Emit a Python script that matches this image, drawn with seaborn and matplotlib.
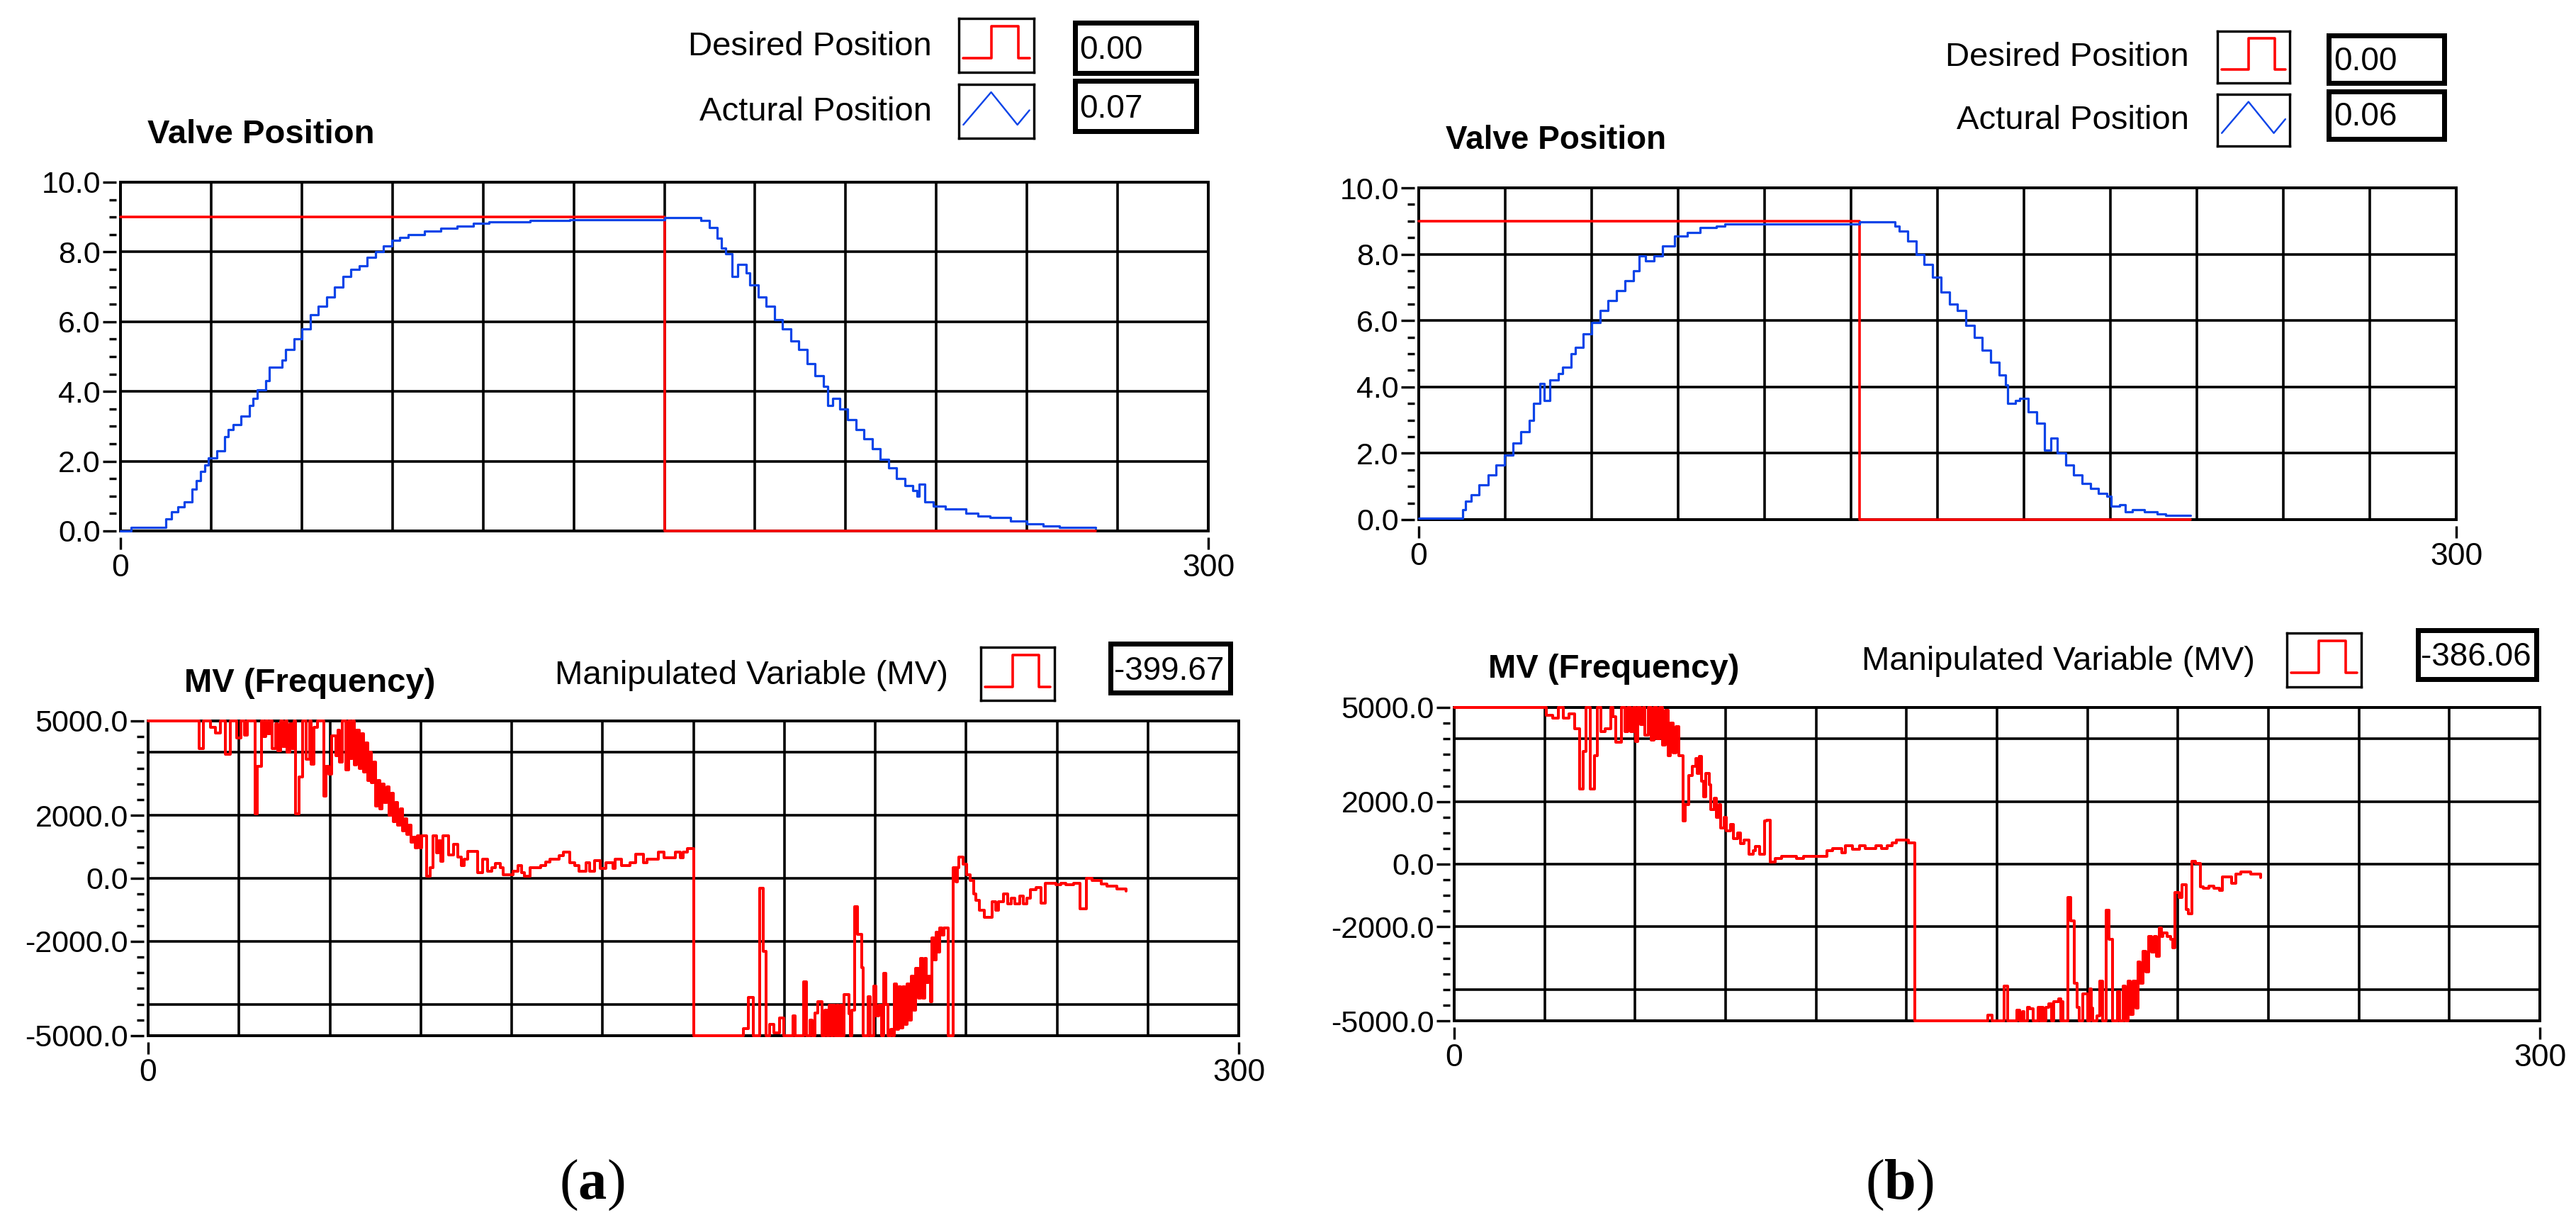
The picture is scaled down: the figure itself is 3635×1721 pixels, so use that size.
import matplotlib
matplotlib.use("Agg")
import matplotlib.pyplot as plt
from matplotlib.patches import Rectangle
from matplotlib.ticker import MultipleLocator
import pandas as pd
import seaborn as sns

# --- données --------------------------------------------------------------
RED = "#ff0000"
BLUE = "#0b44e8"

# (a) position de la vanne
a_t = [0, 2.9, 12.5, 14.1, 15.8, 17.5, 19.8, 21.0, 22.0, 23.2,
       24.3, 26.5, 28.7, 29.8, 31.0, 33.2, 35.5, 36.6, 37.7, 40.0,
       41.1, 44.5, 45.6, 47.8, 50.1, 52.3, 54.6, 56.8, 59.1, 61.3,
       63.6, 65.8, 68.1, 70.3, 72.5, 74.8, 77.0, 79.3, 83.8, 88.3,
       92.8, 97.3, 101.7, 113.0, 124.0, 150.0, 160.0, 162.4, 164.6, 165.8,
       167.0, 168.7, 170.2, 172.5, 173.6, 175.9, 178.1, 180.4, 182.6, 184.8,
       187.1, 189.3, 191.6, 193.8, 195.0, 196.5, 198.3, 200.6, 202.8, 205.0,
       207.3, 209.5, 211.8, 214.0, 216.3, 218.5, 219.7, 220.3, 221.9, 224.2,
       227.5, 233.1, 236.5, 239.9, 245.5, 250.0, 254.5, 259.0, 269.0]
a_actual = [0.0, 0.1, 0.35, 0.55, 0.7, 0.83, 1.2, 1.45, 1.7, 1.9,
            2.1, 2.3, 2.7, 2.9, 3.05, 3.3, 3.6, 3.8, 4.05, 4.3,
            4.7, 4.9, 5.2, 5.5, 5.8, 6.2, 6.45, 6.7, 7.0, 7.3,
            7.5, 7.6, 7.85, 8.0, 8.17, 8.33, 8.42, 8.5, 8.6, 8.67,
            8.75, 8.83, 8.87, 8.9, 8.93, 8.98, 8.9, 8.7, 8.4, 8.1,
            7.95, 7.3, 7.65, 7.4, 7.05, 6.7, 6.45, 6.05, 5.8, 5.45,
            5.2, 4.8, 4.45, 4.15, 3.6, 3.8, 3.5, 3.2, 2.9, 2.65,
            2.35, 2.05, 1.8, 1.5, 1.3, 1.15, 1.0, 1.35, 0.83, 0.72,
            0.63, 0.5, 0.42, 0.39, 0.28, 0.2, 0.14, 0.11, 0.08]
a_desired_t = [0, 150, 269]
a_desired = [9.0, 0.0, 0.0]

# (b) position de la vanne
b_t = [0, 12.7, 13.5, 15.1, 17.5, 20.0, 22.4, 24.8, 27.2, 29.6,
       32.0, 33.2, 35.1, 36.3, 38.0, 40.4, 41.6, 44.0, 45.2, 47.6,
       50.0, 52.4, 54.8, 57.2, 59.6, 62.0, 63.7, 65.6, 68.0, 70.4,
       74.0, 77.6, 81.3, 86.1, 88.5, 127.4, 137.7, 139.0, 141.4, 143.8,
       146.2, 148.6, 151.0, 153.4, 155.8, 158.2, 160.6, 163.0, 165.4, 167.8,
       169.7, 170.2, 172.6, 173.8, 176.2, 178.6, 181.0, 182.7, 184.6, 187.0,
       189.4, 191.8, 194.2, 196.6, 199.0, 200.3, 202.7, 204.3, 206.3, 209.9,
       213.5, 215.9, 223.1]
b_actual = [0.05, 0.3, 0.55, 0.75, 1.05, 1.35, 1.65, 1.95, 2.3, 2.65,
            3.0, 3.5, 4.1, 3.6, 4.2, 4.4, 4.6, 5.0, 5.2, 5.6,
            5.95, 6.3, 6.6, 6.9, 7.2, 7.5, 7.95, 7.8, 7.95, 8.25,
            8.55, 8.65, 8.8, 8.85, 8.9, 8.97, 8.85, 8.7, 8.4, 8.0,
            7.7, 7.3, 6.85, 6.5, 6.3, 5.85, 5.5, 5.1, 4.75, 4.35,
            4.05, 3.5, 3.6, 3.65, 3.25, 2.9, 2.1, 2.45, 2.0, 1.65,
            1.35, 1.1, 0.93, 0.78, 0.7, 0.4, 0.45, 0.23, 0.3, 0.23,
            0.17, 0.12, 0.12]
b_desired_t = [0, 127.4, 223.1]
b_desired = [9.0, 0.0, 0.0]

# (a) MV (temps, fréquence)
mv_a = [(0, 5000), (14.1, 4120), (15.3, 5000), (17.1, 4800), (18.6, 4620), (19.9, 5000),
        (21.3, 3950), (22.7, 5000), (24.3, 4450), (25.5, 5000), (26.5, 4550), (27.2, 5000),
        (29.5, 2060), (30.0, 3560), (31.2, 5000), (31.8, 4500), (32.4, 5000), (33.0, 4600),
        (33.6, 5000), (34.2, 4120), (35.0, 4900), (35.6, 4050), (36.5, 5000), (37.0, 4200),
        (37.8, 5000), (38.3, 4000), (39.0, 4900), (39.5, 4120), (40.2, 5000), (40.6, 2060),
        (41.5, 3220), (42.4, 5000), (43.4, 3780), (44.4, 5000), (44.8, 3630), (45.7, 4800),
        (46.5, 5000), (48.4, 2620), (48.9, 3560), (49.8, 3300), (50.4, 4530), (51.6, 3900),
        (52.3, 4700), (52.7, 3700), (53.4, 5000), (54.4, 3450), (55.1, 5000), (55.6, 3800),
        (56.2, 5000), (56.8, 3600), (57.4, 4700), (58.0, 3500), (58.6, 4600), (59.2, 3370),
        (59.8, 4300), (60.4, 3100), (61.0, 4000), (61.5, 3050), (62.0, 3700), (62.6, 2300),
        (63.2, 3100), (63.8, 2200), (64.4, 3000), (65.0, 2400), (65.6, 2900), (66.3, 2000),
        (66.9, 2700), (67.5, 1800), (68.1, 2400), (68.7, 1700), (69.3, 2200), (69.9, 1500),
        (70.5, 1900), (71.1, 1400), (71.7, 1700), (72.3, 1150), (72.9, 1300), (73.5, 970),
        (74.1, 1350), (74.7, 970), (75.3, 1350), (76.7, 75), (77.6, 340), (78.4, 1350),
        (79.4, 800), (80.0, 1200), (80.5, 550), (81.0, 1350), (82.7, 750), (84.0, 1090),
        (85.2, 670), (86.2, 410), (87.0, 600), (88.0, 860), (90.6, 190), (92.0, 600),
        (93.4, 225), (94.5, 340), (95.6, 480), (96.8, 340), (97.6, 110), (100.3, 225),
        (101.8, 410), (102.8, 190), (103.5, 75), (105.0, 340), (108.0, 410), (109.3, 520),
        (110.5, 600), (113.0, 710), (114.3, 840), (116.0, 490), (117.4, 410), (118.6, 225),
        (120.4, 490), (121.4, 225), (122.9, 560), (124.4, 320), (125.9, 500), (127.8, 320),
        (128.4, 600), (130.2, 410), (132.6, 500), (134.2, 770), (136.3, 490), (137.3, 600),
        (140.4, 840), (142.0, 660), (145.0, 840), (146.4, 660), (147.2, 840), (148.4, 940),
        (150.0, -5000), (163.7, -4780), (165.2, -3780), (166.4, -5000), (168.2, -310),
        (169.2, -2310), (170.0, -5000), (171.0, -4630), (172.2, -4900), (173.7, -4440),
        (174.9, -5000), (177.4, -4370), (178.0, -5000), (180.4, -3280), (181.0, -5000),
        (182.0, -4500), (182.7, -5000), (183.4, -4290), (184.2, -3920), (185.4, -5000),
        (186.2, -4180), (186.8, -5000), (187.4, -4030), (187.9, -5000), (188.4, -4030),
        (188.9, -5000), (189.4, -4030), (189.9, -5000), (190.4, -4030), (190.9, -5000),
        (191.4, -3690), (192.7, -4300), (193.2, -5000), (193.6, -4200), (194.4, -900),
        (195.2, -1790), (196.2, -2840), (196.7, -5000), (198.0, -3770), (198.7, -5000),
        (199.7, -3430), (200.2, -4370), (201.0, -4030), (201.7, -5000), (202.4, -3020),
        (203.0, -4000), (203.6, -5000), (204.2, -4800), (204.8, -5000), (205.2, -3360),
        (205.8, -4800), (206.4, -3440), (207.0, -4750), (207.6, -3440), (208.2, -4650),
        (208.8, -3360), (209.4, -4500), (210.0, -3100), (210.6, -4200), (211.2, -2870),
        (211.8, -3800), (212.4, -2540), (213.0, -3800), (213.6, -2540), (214.0, -3300),
        (214.6, -3100), (215.2, -3920), (215.6, -1890), (216.2, -2580), (216.7, -1720),
        (217.2, -2350), (217.8, -1570), (218.4, -1800), (219.0, -1570), (220.0, -5000),
        (221.4, 340), (222.2, -110), (222.6, 340), (223.0, 670), (224.2, 450), (225.2, 110),
        (226.2, -75), (227.0, -490), (227.7, -690), (228.7, -1010), (230.0, -1230),
        (232.2, -750), (233.2, -1010), (234.0, -750), (235.2, -490), (236.4, -820),
        (237.4, -640), (238.4, -820), (239.7, -560), (240.7, -820), (241.7, -640),
        (242.7, -370), (244.2, -300), (245.7, -780), (246.7, -165), (249.7, -200),
        (251.0, -165), (252.5, -200), (254.5, -165), (256.4, -970), (258.0, 0),
        (259.7, -75), (262.2, -170), (263.7, -250), (266.4, -340), (269.0, -410)]

# (b) MV
mv_b = [(0, 5000), (25.4, 4750), (27.2, 4650), (28.7, 5000), (30.2, 4650), (31.7, 4800),
        (33.2, 4330), (34.7, 2400), (35.7, 3590), (36.5, 5000), (37.5, 2400), (38.7, 3470),
        (39.5, 5000), (40.5, 4220), (41.7, 4320), (43.2, 5000), (43.9, 4700), (44.7, 3900),
        (46.2, 5000), (47.2, 4220), (47.9, 5000), (48.7, 4220), (49.5, 5000), (50.2, 3920),
        (50.7, 5000), (51.5, 4450), (52.2, 5000), (52.7, 4110), (53.7, 5000), (54.5, 3960),
        (55.3, 5000), (56.0, 4000), (56.8, 5000), (57.6, 3810), (58.3, 4900), (59.1, 3470),
        (59.8, 4500), (60.6, 3550), (61.3, 4400), (62.1, 3470), (63.2, 1370), (63.9, 1900),
        (64.9, 2835), (65.7, 3130), (66.7, 3360), (67.2, 2900), (67.7, 3430), (68.4, 2650),
        (68.9, 2160), (69.6, 2900), (70.4, 2540), (70.9, 1750), (71.9, 2100), (72.4, 1490),
        (73.2, 1900), (73.7, 1150), (74.7, 1500), (75.2, 1070), (76.3, 1260), (77.2, 825),
        (78.3, 1000), (79.2, 660), (80.0, 780), (81.4, 320), (82.6, 435), (83.3, 570),
        (84.4, 320), (85.8, 1370), (86.4, 1410), (87.4, 75), (88.8, 170), (90.4, 250),
        (94.6, 170), (96.6, 250), (103.1, 420), (104.6, 500), (107.1, 360), (108.1, 590),
        (110.1, 470), (112.1, 590), (113.6, 500), (116.6, 590), (118.1, 500), (119.6, 590),
        (121.1, 675), (122.1, 760), (125.6, 675),
        (127.3, -5000), (147.5, -4810), (148.7, -5000), (152.0, -3900), (153.0, -5000),
        (155.5, -4650), (156.2, -5000), (157.0, -4700), (157.5, -5000), (158.5, -4570),
        (159.0, -4620), (160.0, -5000), (161.3, -4570), (162.0, -5000), (162.3, -4570),
        (162.7, -5000), (163.5, -4570), (164.3, -4460), (165.0, -5000), (165.7, -4400),
        (167.0, -4300), (167.6, -5000), (168.0, -4400), (168.3, -5000), (169.5, -1070),
        (170.3, -1815), (171.3, -3800), (172.1, -4570), (172.7, -5000), (173.7, -4140),
        (175.0, -5000), (175.6, -3990), (176.0, -4600), (176.4, -5000), (177.6, -4850),
        (178.4, -3730), (179.2, -5000), (180.2, -1480), (180.9, -2400), (181.9, -5000),
        (183.2, -4065), (183.9, -5000), (184.9, -3900), (185.5, -5000), (186.2, -3730),
        (186.9, -4800), (187.6, -3730), (188.3, -4600), (188.9, -3130), (189.6, -3800),
        (190.4, -2790), (191.1, -3450), (191.9, -2300), (192.6, -2800), (193.4, -2300),
        (194.1, -2940), (194.9, -2040), (195.4, -2300), (195.9, -2200), (196.9, -2300),
        (197.9, -2400), (198.5, -2680), (199.2, -900), (200.4, -1070), (201.2, -650),
        (202.2, -1440), (202.9, -1590), (203.9, 100), (204.9, 20), (206.2, -730),
        (206.9, -765), (208.5, -700), (210.0, -765), (211.4, -840), (212.2, -405),
        (214.9, -615), (215.9, -315), (217.4, -240), (220.2, -315), (222.9, -430)]

valve_ticks = [0, 2, 4, 6, 8, 10]
valve_labels = ["0.0", "2.0", "4.0", "6.0", "8.0", "10.0"]
valve_grid = [2, 4, 6, 8]
mv_ticks = [-5000, -2000, 0, 2000, 5000]
mv_labels = ["-5000.0", "-2000.0", "0.0", "2000.0", "5000.0"]
mv_grid = [-4000, -2000, 0, 2000, 4000]
x_grid = list(range(0, 301, 25))

readout_a = ["0.00", "0.07", "-399.67"]
readout_b = ["0.00", "0.06", "-386.06"]

# --- style -------------------------------------------------------------------
sns.set_theme(style="white", rc={"axes.edgecolor": "black", "text.color": "black",
                                 "xtick.color": "black", "ytick.color": "black"})
plt.rcParams["font.family"] = ["Liberation Sans", "DejaVu Sans"]
plt.rcParams["mathtext.fontset"] = "custom"
plt.rcParams["mathtext.rm"] = "Liberation Serif"
plt.rcParams["mathtext.bf"] = "Liberation Serif:bold"

W, H = 3635, 1721
PT = 0.72  # px -> pt à 100 dpi

fig = plt.figure(figsize=(W / 100, H / 100), dpi=100)


def frac(l, t, r, b):
    return [l / W, 1 - b / H, (r - l) / W, (b - t) / H]


def graph(box, lines, ylim, ticks, labels, grid_y, minor):
    l, t, r, b = box
    ax = fig.add_axes(frac(*box))
    for x, y, color, lw in lines:
        df = pd.DataFrame({"t": x, "v": y})
        sns.lineplot(data=df, x="t", y="v", ax=ax, color=color, linewidth=lw,
                     drawstyle="steps-post", clip_on=False, zorder=3)
    ax.set_xlabel("")
    ax.set_ylabel("")
    ax.set_xlim(0, 300)
    ax.set_ylim(*ylim)
    ax.set_xticks(x_grid)
    ax.set_yticks(grid_y)
    ax.tick_params(length=0, labelbottom=False, labelleft=False)
    ax.grid(True, color="black", linewidth=3.6 * PT)
    for s in ax.spines.values():
        s.set_visible(True)
        s.set_color("black")
        s.set_linewidth(4 * PT)

    # échelle Y séparée du cadre
    sy = ax.secondary_yaxis(-6 / (r - l))
    sy.set_yticks(ticks, labels=labels)
    sy.yaxis.set_minor_locator(MultipleLocator(minor))
    sy.tick_params(which="both", left=True, width=3.4 * PT, colors="black")
    sy.tick_params(which="major", length=19 * PT, pad=3 * PT, labelsize=31)
    sy.tick_params(which="minor", length=10 * PT)
    for s in sy.spines.values():
        s.set_visible(False)

    # échelle X : seulement 0 et 300
    sx = ax.secondary_xaxis(-9 / (b - t))
    sx.set_xticks([0, 300], labels=["0", "300"])
    sx.tick_params(bottom=True, length=17 * PT, width=3.4 * PT, pad=6 * PT,
                   labelsize=32, colors="black")
    for s in sx.spines.values():
        s.set_visible(False)
    return ax


def label(x, y, s, ha="right", size=34, weight="normal"):
    fig.text(x / W, 1 - y / H, s, ha=ha, va="baseline", fontsize=size, fontweight=weight)


def icon(box, kind):
    iax = fig.add_axes(frac(*box))
    iax.set_xlim(0, 1)
    iax.set_ylim(0, 1)
    iax.set_xticks([])
    iax.set_yticks([])
    for s in iax.spines.values():
        s.set_visible(True)
        s.set_color("black")
        s.set_linewidth(3.4 * PT)
    if kind == "step":
        iax.plot([0.06, 0.43, 0.43, 0.79, 0.79, 0.94], [0.26, 0.26, 0.86, 0.86, 0.26, 0.26],
                 color=RED, linewidth=3.6 * PT)
    else:
        iax.plot([0.06, 0.43, 0.78, 0.94], [0.25, 0.855, 0.25, 0.52],
                 color=BLUE, linewidth=2.4 * PT)


def readout(box, s, base, xtext):
    l, t, r, b = box
    e = 7
    fig.add_artist(Rectangle(((l + e / 2) / W, 1 - (b - e / 2) / H), (r - l - e) / W,
                             (b - t - e) / H, transform=fig.transFigure, fill=False,
                             edgecolor="black", linewidth=e * PT))
    fig.text(xtext / W, 1 - base / H, s, ha="left", va="baseline", fontsize=33)


# --- panneau (a) -------------------------------------------------------------
graph((170, 257, 1705, 749),
      [(a_desired_t, a_desired, RED, 3.6 * PT), (a_t, a_actual, BLUE, 3.2 * PT)],
      (0, 10), valve_ticks, valve_labels, valve_grid, 0.5)
label(208, 202, "Valve Position", ha="left", size=34, weight="bold")
label(1315, 78, "Desired Position")
label(1315, 170, "Actural Position")
icon((1353, 26, 1459, 102), "step")
icon((1353, 119, 1459, 195), "wave")
readout((1513, 29, 1691, 106), readout_a[0], 83, 1523)
readout((1513, 111, 1691, 188), readout_a[1], 166, 1523)

mva = pd.DataFrame(mv_a, columns=["t", "v"])
graph((209, 1017, 1748, 1461), [(mva["t"], mva["v"], RED, 4 * PT)],
      (-5000, 5000), mv_ticks, mv_labels, mv_grid, 500)
label(260, 976, "MV (Frequency)", ha="left", size=34, weight="bold")
label(1338, 965, "Manipulated Variable (MV)")
icon((1384, 913, 1488, 988), "step")
readout((1563, 905, 1739, 981), readout_a[2], 959, 1572)

fig.text(835 / W, 1 - 1672 / H, r"($\mathbf{a}$)", ha="center", va="center",
         fontsize=58, family="Liberation Serif")

# --- panneau (b) -------------------------------------------------------------
graph((2002, 265, 3466, 733),
      [(b_desired_t, b_desired, RED, 3.6 * PT), (b_t, b_actual, BLUE, 3.2 * PT)],
      (0, 10), valve_ticks, valve_labels, valve_grid, 0.5)
label(2040, 210, "Valve Position", ha="left", size=33, weight="bold")
label(3089, 93, "Desired Position")
label(3089, 182, "Actural Position")
icon((3129, 44, 3231, 117), "step")
icon((3129, 133, 3231, 206), "wave")
readout((3282, 47, 3452, 120), readout_b[0], 99, 3293)
readout((3282, 126, 3452, 199), readout_b[1], 177, 3293)

mvb = pd.DataFrame(mv_b, columns=["t", "v"])
graph((2052, 998, 3584, 1440), [(mvb["t"], mvb["v"], RED, 4 * PT)],
      (-5000, 5000), mv_ticks, mv_labels, mv_grid, 500)
label(2100, 956, "MV (Frequency)", ha="left", size=34, weight="bold")
label(3182, 945, "Manipulated Variable (MV)")
icon((3227, 893, 3332, 969), "step")
readout((3408, 886, 3582, 962), readout_b[2], 939, 3416)

fig.text(2680 / W, 1 - 1672 / H, r"($\mathbf{b}$)", ha="center", va="center",
         fontsize=58, family="Liberation Serif")

fig.savefig("out.png", dpi=100)
